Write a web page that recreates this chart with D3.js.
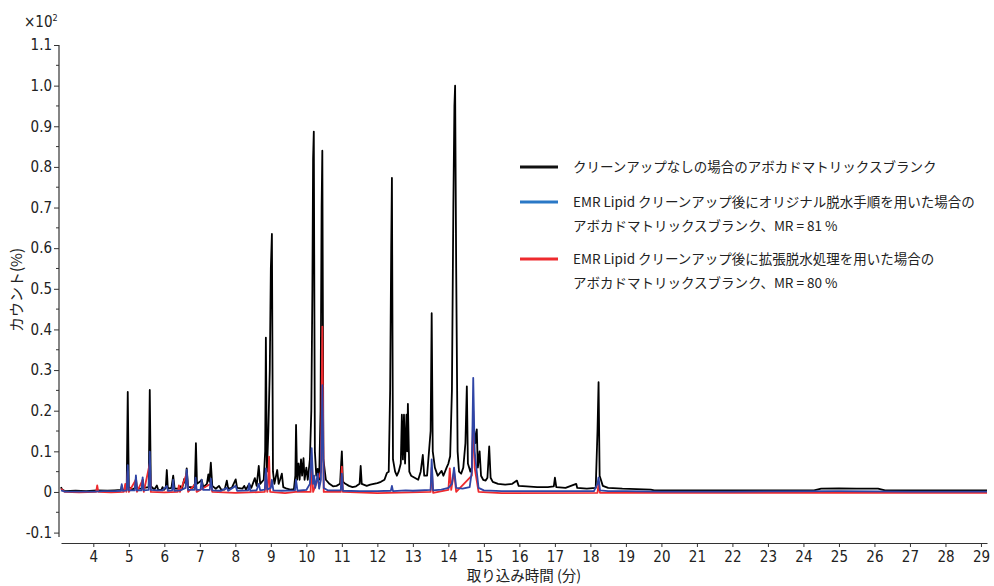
<!DOCTYPE html>
<html lang="ja">
<head>
<meta charset="UTF-8">
<title>クロマトグラム</title>
<script src="https://d3js.org/d3.v7.min.js"></script>
<style>
  body { margin: 0; background: #fff; }
  svg text { fill: #222; }
  .tick text { font-family: "Liberation Sans Narrow", "DejaVu Sans Condensed", "DejaVu Sans", sans-serif; font-stretch: condensed; font-size: 15px; }
  .jp { font-family: "Noto Sans CJK JP", "Noto Sans", sans-serif; }
</style>
</head>
<body>
<svg width="994" height="586"></svg>
<script>
// data: [time (min), counts (x10^2 %)]
const blackSeries = [
  [3.09,0.012],[3.12,0.006],[3.2,0.002],[3.5,0.003],[3.8,0.002],[4.1,0.004],[4.4,0.003],[4.6,0.004],[4.78,0.005],[4.8,0.015],[4.83,0.005],
  [4.94,0.006],[4.97,0.246],[5.0,0.012],[5.1,0.006],[5.18,0.01],[5.2,0.035],[5.23,0.008],[5.37,0.008],[5.39,0.03],[5.42,0.01],
  [5.56,0.012],[5.59,0.251],[5.62,0.014],[5.72,0.006],[5.79,0.016],[5.83,0.005],[5.92,0.006],[5.95,0.012],[5.99,0.005],[6.04,0.01],
  [6.07,0.054],[6.1,0.008],[6.2,0.01],[6.25,0.04],[6.29,0.008],[6.4,0.008],[6.45,0.014],[6.5,0.008],[6.56,0.032],[6.6,0.02],
  [6.63,0.058],[6.67,0.012],[6.75,0.012],[6.8,0.01],[6.86,0.02],[6.89,0.12],[6.92,0.02],[7.0,0.025],[7.05,0.03],[7.1,0.012],
  [7.2,0.02],[7.24,0.043],[7.27,0.025],[7.31,0.072],[7.35,0.015],[7.45,0.008],[7.54,0.015],[7.6,0.006],[7.7,0.006],[7.76,0.028],
  [7.8,0.008],[7.9,0.01],[8.01,0.031],[8.05,0.01],[8.2,0.008],[8.25,0.015],[8.3,0.006],[8.39,0.02],[8.45,0.01],[8.55,0.034],
  [8.6,0.015],[8.66,0.064],[8.7,0.02],[8.8,0.03],[8.84,0.1],[8.86,0.38],[8.89,0.05],[8.93,0.15],[8.97,0.3],[9.0,0.55],
  [9.03,0.635],[9.06,0.05],[9.1,0.02],[9.18,0.054],[9.22,0.02],[9.26,0.03],[9.31,0.045],[9.35,0.012],[9.45,0.008],[9.55,0.006],
  [9.65,0.007],[9.69,0.04],[9.71,0.165],[9.74,0.03],[9.78,0.07],[9.81,0.03],[9.85,0.08],[9.88,0.04],[9.92,0.083],[9.95,0.03],
  [10.0,0.06],[10.04,0.03],[10.1,0.08],[10.14,0.2],[10.17,0.5],[10.19,0.82],[10.21,0.887],[10.24,0.1],[10.28,0.04],[10.32,0.057],
  [10.36,0.03],[10.4,0.2],[10.43,0.7],[10.45,0.84],[10.48,0.08],[10.55,0.03],[10.65,0.02],[10.75,0.014],[10.85,0.015],[10.95,0.02],
  [10.98,0.07],[11.0,0.1],[11.03,0.025],[11.1,0.02],[11.2,0.015],[11.3,0.012],[11.4,0.014],[11.5,0.02],[11.53,0.064],[11.56,0.02],
  [11.7,0.015],[11.8,0.018],[11.9,0.02],[12.0,0.022],[12.1,0.025],[12.2,0.03],[12.27,0.047],[12.32,0.05],[12.36,0.25],[12.39,0.6],
  [12.41,0.773],[12.44,0.08],[12.5,0.05],[12.55,0.04],[12.6,0.05],[12.66,0.07],[12.69,0.19],[12.72,0.08],[12.75,0.19],[12.78,0.07],
  [12.82,0.19],[12.84,0.1],[12.86,0.217],[12.9,0.05],[12.95,0.04],[13.05,0.035],[13.15,0.03],[13.22,0.05],[13.28,0.091],[13.32,0.04],
  [13.4,0.04],[13.5,0.15],[13.53,0.44],[13.56,0.1],[13.62,0.06],[13.7,0.04],[13.81,0.052],[13.86,0.04],[13.95,0.06],[14.0,0.07],
  [14.05,0.088],[14.1,0.25],[14.14,0.7],[14.17,0.95],[14.19,1.0],[14.22,0.55],[14.26,0.1],[14.3,0.05],[14.36,0.045],[14.42,0.06],
  [14.48,0.12],[14.52,0.26],[14.55,0.07],[14.62,0.05],[14.66,0.06],[14.7,0.15],[14.73,0.15],[14.76,0.12],[14.8,0.154],[14.83,0.06],
  [14.88,0.1],[14.92,0.04],[14.98,0.03],[15.05,0.028],[15.1,0.035],[15.15,0.112],[15.19,0.035],[15.25,0.025],[15.4,0.02],[15.6,0.018],
  [15.8,0.02],[15.93,0.028],[15.98,0.015],[16.2,0.014],[16.5,0.012],[16.8,0.012],[16.97,0.014],[17.0,0.035],[17.04,0.012],[17.3,0.01],
  [17.6,0.02],[17.63,0.01],[17.9,0.008],[18.15,0.01],[18.2,0.15],[18.23,0.27],[18.26,0.04],[18.35,0.015],[18.5,0.01],[18.9,0.008],
  [19.3,0.007],[19.7,0.006],[19.8,0.004],[20.5,0.004],[21.5,0.004],[22.5,0.004],[23.5,0.004],[24.3,0.004],[24.5,0.008],[25.0,0.009],
  [25.5,0.008],[26.1,0.008],[26.3,0.004],[27,0.004],[28,0.004],[29.17,0.004]
];

const blueSeries = [
  [3.09,0.004],[3.2,0.001],[3.6,0.001],[4.0,0.001],[4.3,0.002],[4.6,0.002],[4.78,0.003],[4.8,0.019],[4.83,0.003],[4.94,0.004],
  [4.97,0.066],[5.0,0.004],[5.17,0.004],[5.2,0.041],[5.23,0.004],[5.36,0.004],[5.39,0.036],[5.42,0.004],[5.56,0.005],[5.59,0.099],
  [5.62,0.005],[5.8,0.004],[5.95,0.004],[6.07,0.015],[6.1,0.003],[6.22,0.004],[6.25,0.03],[6.28,0.003],[6.45,0.004],[6.6,0.01],
  [6.63,0.055],[6.67,0.005],[6.85,0.005],[6.88,0.035],[6.91,0.005],[7.02,0.006],[7.05,0.03],[7.09,0.005],[7.28,0.005],[7.31,0.033],
  [7.35,0.004],[7.6,0.003],[7.76,0.01],[7.8,0.003],[8.01,0.015],[8.05,0.003],[8.36,0.004],[8.39,0.021],[8.42,0.003],[8.6,0.004],
  [8.66,0.02],[8.7,0.004],[8.83,0.006],[8.86,0.058],[8.9,0.006],[9.0,0.01],[9.03,0.03],[9.07,0.004],[9.3,0.003],[9.68,0.004],
  [9.71,0.03],[9.75,0.003],[10.0,0.005],[10.1,0.02],[10.15,0.108],[10.19,0.02],[10.22,0.04],[10.25,0.01],[10.32,0.045],[10.36,0.008],
  [10.41,0.03],[10.45,0.263],[10.49,0.01],[10.6,0.004],[10.97,0.004],[11.0,0.045],[11.03,0.003],[11.5,0.002],[12.0,0.002],[12.38,0.003],
  [12.41,0.015],[12.44,0.002],[12.8,0.004],[13.0,0.003],[13.5,0.005],[13.53,0.08],[13.57,0.004],[13.8,0.006],[14.0,0.01],[14.1,0.02],
  [14.16,0.06],[14.22,0.01],[14.4,0.008],[14.6,0.012],[14.66,0.05],[14.7,0.281],[14.74,0.1],[14.8,0.05],[14.85,0.01],[15.0,0.004],
  [15.5,0.002],[16,0.002],[17,0.002],[18.1,0.002],[18.2,0.02],[18.23,0.036],[18.27,0.004],[18.5,0.002],[19,0.002],[20,0.001],
  [22,0.001],[25,0.002],[27,0.001],[29.17,0.001]
];

const redSeries = [
  [3.09,0.008],[3.2,0.0],[3.6,-0.001],[4.08,0.0],[4.11,0.016],[4.14,0.0],[4.5,-0.001],[4.86,0.0],[4.9,0.02],[4.93,0.0],
  [4.97,0.05],[5.0,0.0],[5.2,0.03],[5.23,0.0],[5.39,0.03],[5.42,0.0],[5.59,0.07],[5.62,0.0],[6.0,-0.001],[6.38,0.0],
  [6.41,0.016],[6.44,0.0],[6.63,0.045],[6.67,0.0],[6.88,0.02],[6.91,0.0],[7.31,0.02],[7.35,0.0],[8.0,-0.002],[8.83,0.0],
  [8.86,0.04],[8.9,0.0],[8.92,0.02],[8.95,0.087],[8.98,0.0],[9.4,-0.003],[9.7,0.0],[10.12,0.0],[10.15,0.08],[10.19,0.0],
  [10.41,0.05],[10.45,0.407],[10.49,0.0],[10.97,0.0],[11.0,0.062],[11.03,0.0],[12.0,-0.003],[13.5,0.0],[13.53,0.06],[13.57,-0.002],
  [14.0,0.005],[14.04,0.058],[14.08,0.005],[14.16,0.05],[14.22,0.0],[14.66,0.04],[14.7,0.2],[14.74,0.06],[14.85,0.0],[15.5,-0.003],
  [18.2,-0.002],[18.23,0.02],[18.27,-0.002],[20,-0.002],[29.17,-0.002]
];

const xTicks = d3.range(4, 30);
const yTicks = [-0.1, 0, 0.1, 0.2, 0.3, 0.4, 0.5, 0.6, 0.7, 0.8, 0.9, 1.0, 1.1];
const yTickLabels = ["-0.1", "0", "0.1", "0.2", "0.3", "0.4", "0.5", "0.6", "0.7", "0.8", "0.9", "1.0", "1.1"];
const yMinor = [-0.05, 0.05, 0.15, 0.25, 0.35, 0.45, 0.55, 0.65, 0.75, 0.85, 0.95, 1.05];

const legendItems = [
  { color: "#111111", lines: ["クリーンアップなしの場合のアボカドマトリックスブランク"] },
  { color: "#2a78c6", lines: ["EMR Lipid クリーンアップ後にオリジナル脱水手順を用いた場合の", "アボカドマトリックスブランク、MR = 81 %"] },
  { color: "#ee2a2e", lines: ["EMR Lipid クリーンアップ後に拡張脱水処理を用いた場合の", "アボカドマトリックスブランク、MR = 80 %"] }
];

const svg = d3.select("svg");

const x = d3.scaleLinear().domain([3.09, 29.17]).range([61, 987]);
const y = d3.scaleLinear().domain([-0.1, 1.1]).range([532.6, 45]);

// y axis
const yAxis = svg.append("g").attr("transform", "translate(59,0)")
  .call(d3.axisLeft(y).tickValues(yTicks).tickSize(5).tickSizeOuter(0).tickPadding(2)
    .tickFormat((d, i) => yTickLabels[i]));
yAxis.select(".domain").attr("d", "M0,45V537").attr("stroke", "#333").attr("stroke-width", 1.2);
yAxis.selectAll(".tick line").attr("stroke", "#333");
yAxis.selectAll(".tick text").attr("fill", "#222");
yAxis.selectAll(".minor").data(yMinor).join("line")
  .attr("class", "minor")
  .attr("x1", -3).attr("x2", 0)
  .attr("y1", d => y(d)).attr("y2", d => y(d))
  .attr("stroke", "#333");

// x axis
const xAxis = svg.append("g").attr("transform", "translate(0,543)")
  .call(d3.axisBottom(x).tickValues(xTicks).tickSize(4).tickSizeOuter(0).tickPadding(4));
xAxis.select(".domain").attr("stroke", "#333").attr("stroke-width", 1.2);
xAxis.selectAll(".tick line").attr("stroke", "#333");
xAxis.selectAll(".tick text").attr("fill", "#222");

// series
const line = d3.line().x(d => x(d[0])).y(d => y(d[1]));
[[blackSeries, "#000000"], [redSeries, "#ee2a2e"], [blueSeries, "#2f45a6"]].forEach(([data, color]) => {
  svg.append("path")
    .datum(data)
    .attr("fill", "none")
    .attr("stroke", color)
    .attr("stroke-width", 1.8)
    .attr("stroke-linejoin", "round")
    .attr("d", line);
});

// multiplier
const mult = svg.append("text")
  .attr("x", 24).attr("y", 27)
  .style("font-family", "'Liberation Sans Narrow', 'DejaVu Sans Condensed', sans-serif")
  .style("font-size", "15px");
mult.append("tspan").text("×10");
mult.append("tspan").attr("dy", -6).style("font-size", "9px").text("2");

// axis titles
svg.append("text")
  .attr("class", "jp")
  .attr("transform", "translate(22,290) rotate(-90)")
  .attr("text-anchor", "middle")
  .style("font-size", "15px")
  .attr("fill", "#333")
  .text("カウント(%)");

svg.append("text")
  .attr("class", "jp")
  .attr("x", 524).attr("y", 581)
  .attr("text-anchor", "middle")
  .style("font-size", "14.5px")
  .attr("fill", "#333")
  .text("取り込み時間 (分)");

// legend
const legendY = [167, 202, 259];
legendItems.forEach((item, i) => {
  const g = svg.append("g").attr("transform", `translate(520,${legendY[i]})`);
  g.append("line").attr("x1", 0).attr("x2", 38).attr("y1", 0).attr("y2", 0)
    .attr("stroke", item.color).attr("stroke-width", 3);
  item.lines.forEach((t, j) => {
    g.append("text")
      .attr("class", "jp")
      .attr("x", 53).attr("y", j * 24)
      .attr("dy", "0.35em")
      .style("font-size", "13.5px")
      .attr("fill", "#222")
      .text(t);
  });
});
</script>
</body>
</html>
